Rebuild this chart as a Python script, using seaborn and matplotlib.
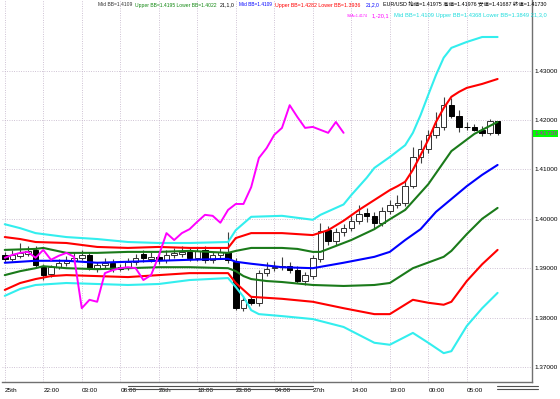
import matplotlib
matplotlib.use("Agg")
import matplotlib.pyplot as plt
import matplotlib.font_manager as fm
import matplotlib.transforms as mtransforms
from matplotlib.lines import Line2D
import seaborn as sns

# ---------------- data (EUR/USD hourly) ----------------
bar_idx = list(range(65))
opens = [1.3927,1.3919,1.3925,1.3929,1.3937,1.3902,1.3888,1.3902,1.3910,1.3915,
         1.3921,1.3927,1.3900,1.3906,1.3910,1.3902,1.3900,1.3913,1.3929,1.3919,
         1.3923,1.3917,1.3927,1.3929,1.3933,1.3921,1.3937,1.3917,1.3927,1.3933,
         1.3913,1.3819,1.3838,1.3830,1.3890,1.3900,1.3902,1.3904,1.3896,1.3874,
         1.3884,1.3919,1.3977,1.3955,1.3973,1.3981,1.3996,1.4012,1.4006,1.3992,
         1.4016,1.4028,1.4032,1.4066,1.4125,1.4141,1.4170,1.4186,1.4230,1.4208,
         1.4186,1.4185,1.4180,1.4174,1.41975]
highs = [1.3933,1.3937,1.3951,1.3945,1.3945,1.3908,1.3906,1.3919,1.3925,1.3933,
         1.3937,1.3933,1.3913,1.3921,1.3919,1.3908,1.3921,1.3929,1.3937,1.3933,
         1.3931,1.3937,1.3941,1.3945,1.3941,1.3941,1.3945,1.3933,1.3943,1.3973,
         1.3921,1.3842,1.3844,1.3896,1.3913,1.3915,1.3923,1.3913,1.3904,1.3892,
         1.3927,1.3992,1.3985,1.3981,1.3990,1.4006,1.4028,1.4022,1.4014,1.4024,
         1.4038,1.4048,1.4079,1.4145,1.4160,1.4180,1.4216,1.4247,1.4244,1.4220,
         1.4196,1.4192,1.4188,1.4202,1.41976]
lows = [1.3913,1.3915,1.3921,1.3925,1.3902,1.3876,1.3882,1.3898,1.3904,1.3910,
        1.3917,1.3896,1.3892,1.3900,1.3892,1.3894,1.3896,1.3906,1.3913,1.3913,
        1.3908,1.3910,1.3921,1.3923,1.3915,1.3915,1.3910,1.3910,1.3921,1.3910,
        1.3815,1.3813,1.3826,1.3824,1.3884,1.3894,1.3896,1.3890,1.3870,1.3866,
        1.3878,1.3913,1.3947,1.3947,1.3965,1.3975,1.3990,1.3994,1.3981,1.3985,
        1.4010,1.4022,1.4026,1.4062,1.4113,1.4133,1.4164,1.4180,1.4204,1.4176,
        1.4180,1.4178,1.4168,1.4170,1.41687]
closes = [1.3919,1.3927,1.3931,1.3935,1.3906,1.3886,1.3902,1.3910,1.3915,1.3921,
          1.3927,1.3900,1.3906,1.3910,1.3898,1.3898,1.3913,1.3921,1.3921,1.3923,
          1.3917,1.3927,1.3931,1.3933,1.3921,1.3935,1.3917,1.3927,1.3933,1.3917,
          1.3819,1.3836,1.3830,1.3890,1.3898,1.3902,1.3904,1.3896,1.3874,1.3886,
          1.3921,1.3975,1.3955,1.3973,1.3981,1.3996,1.4010,1.4006,1.3992,1.4016,
          1.4028,1.4032,1.4066,1.4125,1.4141,1.4170,1.4186,1.4230,1.4208,1.4186,
          1.4185,1.4180,1.4174,1.41975,1.41730]

# SMA(1) shifted -20 (magenta)
sma_x = list(range(45))
sma_y = [1.3921,1.3927,1.3931,1.3933,1.3921,1.3937,1.3917,1.3925,1.3931,1.3923,
         1.3819,1.3836,1.3832,1.3890,1.3896,1.3900,1.3902,1.3900,1.3876,1.3886,
         1.3925,1.3971,1.3957,1.3971,1.3979,1.3994,1.4008,1.4006,1.3992,1.4018,
         1.4030,1.4030,1.4064,1.4123,1.4143,1.4170,1.4184,1.4230,1.4206,1.4184,
         1.4186,1.4180,1.4174,1.4196,1.4174]

# Bollinger bands (21)
mid_x = [0,4,8,12,16,20,24,29,30,32,36,40,44,48,50,52,54,56,58,60,62,64]
mid_y = [1.3911,1.3915,1.3915,1.3911,1.3913,1.3915,1.3917,1.3919,1.3913,1.3909,1.3902,
         1.3900,1.3911,1.3923,1.3933,1.3957,1.3979,1.4014,1.4040,1.4066,1.4089,1.4109]

up1_x = [0,4,5,8,12,16,20,24,29,30,32,36,38,40,41,43,45,48,50,52,55,58,61,64]
up1_y = [1.3937,1.3939,1.3941,1.3931,1.3931,1.3933,1.3933,1.3935,1.3931,1.3935,1.3941,1.3941,
         1.3939,1.3933,1.3933,1.3945,1.3957,1.3979,1.3999,1.4018,1.4070,1.4137,1.4172,1.4196]
lo1_x = [0,2,4,5,8,12,16,20,24,29,30,31,32,34,36,40,44,48,50,53,57,58,60,62,64]
lo1_y = [1.3886,1.3894,1.3900,1.3904,1.3900,1.3898,1.3900,1.3902,1.3902,1.3900,1.3894,1.3884,
         1.3878,1.3874,1.3872,1.3866,1.3864,1.3866,1.3870,1.3900,1.3923,1.3935,1.3969,1.4000,1.4022]

up2_x = [0,2,4,8,12,16,20,24,29,30,32,36,40,42,44,46,48,50,51,52,53,54,55,56,57,58,59,60,62,64]
up2_y = [1.3963,1.3959,1.3953,1.3951,1.3943,1.3941,1.3943,1.3941,1.3941,1.3961,1.3971,1.3971,
         1.3967,1.3977,1.3996,1.4018,1.4038,1.4058,1.4066,1.4075,1.4099,1.4129,1.4160,1.4196,
         1.4224,1.4247,1.4257,1.4265,1.4273,1.4283]
lo2_x = [0,2,4,6,8,12,16,20,24,29,30,31,32,36,40,44,48,50,53,55,57,58,60,62,64]
lo2_y = [1.3856,1.3870,1.3878,1.3884,1.3886,1.3884,1.3882,1.3886,1.3890,1.3890,1.3870,1.3856,
         1.3842,1.3838,1.3832,1.3819,1.3807,1.3807,1.3836,1.3830,1.3826,1.3832,1.3874,1.3908,1.3937]

up3_x = [0,2,4,8,12,16,20,24,29,30,32,36,40,41,44,45,47,48,50,52,53,54,55,56,57,58,59,60,62,64]
up3_y = [1.3989,1.3981,1.3971,1.3963,1.3959,1.3953,1.3951,1.3951,1.3953,1.3977,1.4004,1.4006,
         1.3998,1.4008,1.4029,1.4048,1.4083,1.4103,1.4125,1.4149,1.4174,1.4210,1.4251,1.4291,
         1.4326,1.4346,1.4352,1.4358,1.4368,1.4368]
lo3_x = [0,2,4,8,12,16,20,24,29,30,31,32,33,36,40,42,44,48,50,53,55,57,58,60,62,64]
lo3_y = [1.3844,1.3858,1.3866,1.3870,1.3868,1.3866,1.3868,1.3876,1.3880,1.3862,1.3842,1.3815,
         1.3807,1.3803,1.3797,1.3789,1.3781,1.3749,1.3745,1.3769,1.3749,1.3728,1.3732,1.3783,
         1.3819,1.3850]

tick_idx = [0,5,10,15,20,25,30,35,40,45,50,55,60]
tick_labels = ["25th","22:00","03:00","08:00","26th","18:00","23:00","04:00",
               "27th","14:00","19:00","00:00","05:00"]
price_ticks = [1.37,1.38,1.39,1.40,1.41,1.42,1.43]
last_price = 1.41730

legend_rows = [
    # (x_start_px, x_end_px, y_center_px, text, colour)
    (98, 133, 5, "Mid BB=1.4109", "#333333"),
    (135, 217, 5, "Upper BB=1.4195 Lower BB=1.4022", "#118811"),
    (220, 235, 5, "21,1,0", "#000000"),
    (239, 272, 5, "Mid BB=1.4109", "#0000ff"),
    (275, 360, 5, "Upper BB=1.4282 Lower BB=1.3936", "#ff0000"),
    (366, 380, 5, "21,2,0", "#0000ff"),
    (383, 547, 5, "EUR/USD 始値=1.41975 高値=1.41976 安値=1.41687 終値=1.41730", "#000000"),
    (347, 368, 16, "SMA=1.4174", "#ff00ff"),
    (372, 390, 16, "1,-20,1", "#ff00ff"),
    (394, 547, 16, "Mid BB=1.4109 Upper BB=1.4368 Lower BB=1.3849 21,3,0", "#22dddd"),
]

# ---------------- style ----------------
sns.set_theme(style="white")
names = {f.name for f in fm.fontManager.ttflist}
latin = next((n for n in ["Liberation Sans Narrow", "Liberation Sans", "Arial", "DejaVu Sans"]
              if n in names), "DejaVu Sans")
plt.rcParams["font.family"] = [latin, "Noto Sans CJK JP", "DejaVu Sans"]

W, H = 560, 399
fig = plt.figure(figsize=(5.6, 3.99), dpi=100)
fig.patch.set_facecolor("white")
ax = fig.add_axes([2 / W, 17 / H, 530 / W, 382 / H])
ax.set_facecolor("white")
renderer = fig.canvas.get_renderer()


def width_px(s, size):
    t = fig.text(0, 0, s, fontsize=size)
    w = t.get_window_extent(renderer).width
    t.remove()
    return w


lbl_size = min(7.0, 10 * 23 / width_px("1.43000", 10))

# candles
faces, edges, bottoms, heights = [], [], [], []
for o, c in zip(opens, closes):
    bull = c >= o
    faces.append("white" if bull else "black")
    edges.append("#303030" if bull else "black")
    bottoms.append(min(o, c))
    heights.append(abs(c - o))
ax.vlines(bar_idx, lows, highs, colors="#404040", linewidth=0.8, zorder=2)
ax.bar(bar_idx, heights, bottom=bottoms, width=0.72, color=faces,
       edgecolor=edges, linewidth=0.7, zorder=3)

# bands
band_specs = [
    (up3_x, up3_y, "#33eeee"), (lo3_x, lo3_y, "#33eeee"),
    (up2_x, up2_y, "#ff0000"), (lo2_x, lo2_y, "#ff0000"),
    (up1_x, up1_y, "#1a7a1a"), (lo1_x, lo1_y, "#1a7a1a"),
    (mid_x, mid_y, "#0000ff"),
]
for bx, by, col in band_specs:
    sns.lineplot(x=bx, y=by, color=col, linewidth=1.5, ax=ax, estimator=None,
                 sort=False, zorder=4)
sns.lineplot(x=sma_x, y=sma_y, color="#ff00ff", linewidth=1.4, ax=ax,
             estimator=None, sort=False, zorder=5)

ax.set_xlim(-0.36, 68.47)
ax.set_ylim(1.36696, 1.44429)
ax.set_xlabel("")
ax.set_ylabel("")

# grid & ticks
ax.set_xticks(tick_idx)
ax.set_xticklabels(tick_labels, ha="left", fontsize=lbl_size, color="black")
ax.yaxis.tick_right()
ax.set_yticks(price_ticks)
ax.set_yticklabels([f"{p:.5f}" for p in price_ticks], fontsize=lbl_size, color="black")
ax.tick_params(axis="x", length=0, pad=4)
ax.tick_params(axis="y", length=0, pad=1.5, right=False, labelright=True, labelleft=False)
ax.grid(True, color="#bfb0c6", linestyle=(0, (1.0, 1.8)), linewidth=0.6)
ax.set_axisbelow(True)
for s in ["top", "left"]:
    ax.spines[s].set_visible(False)
for s in ["right", "bottom"]:
    ax.spines[s].set_color("#707070")
    ax.spines[s].set_linewidth(1.0)

# last price box
trans = mtransforms.blended_transform_factory(ax.transAxes, ax.transData)
ax.text(1.0 + 2 / 530, last_price, f"{last_price:.5f}", transform=trans, ha="left",
        va="center", fontsize=lbl_size, color="#cc00cc", clip_on=False,
        bbox=dict(boxstyle="square,pad=0.12", fc="#00ff00", ec="none"))

# legend texts
for x0, x1, yc, s, col in legend_rows:
    t = fig.text(x0 / W, 1 - yc / H, s, color=col, fontsize=6, ha="left", va="center")
    w = t.get_window_extent(renderer).width
    if w > 0:
        t.set_fontsize(min(7.0, 6 * (x1 - x0) / w))

# separator double lines under the time axis
for (a, b) in [(128, 313), (497, 538)]:
    for yy in (386, 389):
        fig.add_artist(Line2D([a / W, b / W], [1 - yy / H] * 2, color="#505050",
                              linewidth=0.8))

fig.savefig("out.png", dpi=100, facecolor="white")
